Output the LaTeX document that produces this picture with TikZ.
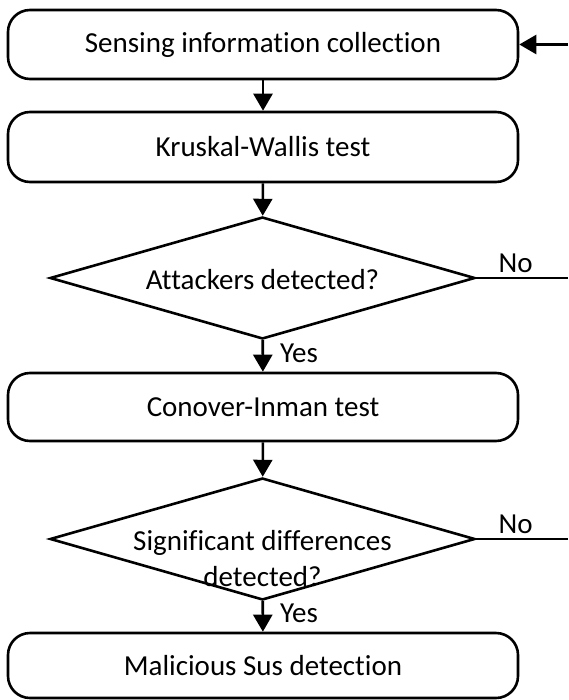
\documentclass[tikz,border=0pt]{standalone}
\usepackage{fontspec}
\setmainfont{Carlito}[Ligatures={NoCommon}]
\usetikzlibrary{shapes.geometric,arrows.meta}
\begin{document}
\begin{tikzpicture}[x=1pt,y=-1pt,
  every node/.style={font=\fontsize{29}{36}\selectfont},
  stepbox/.style={draw, line width=2.6pt, rounded corners=22pt,
    minimum width=510pt, inner sep=0pt},
  decision/.style={draw, diamond, line width=2.6pt, minimum width=425pt,
    minimum height=122pt, inner sep=0pt},
  flow/.style={line width=2.6pt, -{Triangle[length=17pt,width=19pt]}},
  plain/.style={line width=2.6pt},
  tag/.style={inner sep=4pt}
]
\useasboundingbox (0,0) rectangle (568,700);

\node[stepbox, minimum height=69pt] (s1) at (263,44.5) {Sensing information collection};
\node[stepbox, minimum height=70pt] (s2) at (263,147) {Kruskal-Wallis test};
\node[decision] (d1) at (262.5,278) {};
\node (t1) at (262.5,280) {Attackers detected?};
\node[stepbox, minimum height=68pt] (s3) at (263,407) {Conover-Inman test};
\node[decision] (d2) at (262.5,539) {};
\node[align=center] (t2) at (262.5,559) {Significant differences\\detected?};
\node[stepbox, minimum height=65pt] (s5) at (263,665.5) {Malicious Sus detection};

\coordinate (r0) at (568,44.5);
\coordinate (r1) at (568,278);
\coordinate (r2) at (568,539);

\draw[flow] (s1) -- (s2);
\draw[flow] (s2) -- (d1);
\draw[flow] (d1) -- node[tag, right, pos=0.4, xshift=12pt] {Yes} (s3);
\draw[flow] (s3) -- (d2);
\draw[flow] (d2) -- node[tag, right, pos=0.4, xshift=12pt] {Yes} (s5);
\draw[plain] (d1.east) -- node[tag, above, pos=0.43] {No} (r1);
\draw[plain] (d2.east) -- node[tag, above, pos=0.43] {No} (r2);
\draw[flow] (r0) -- (s1.east);
\end{tikzpicture}
\end{document}
